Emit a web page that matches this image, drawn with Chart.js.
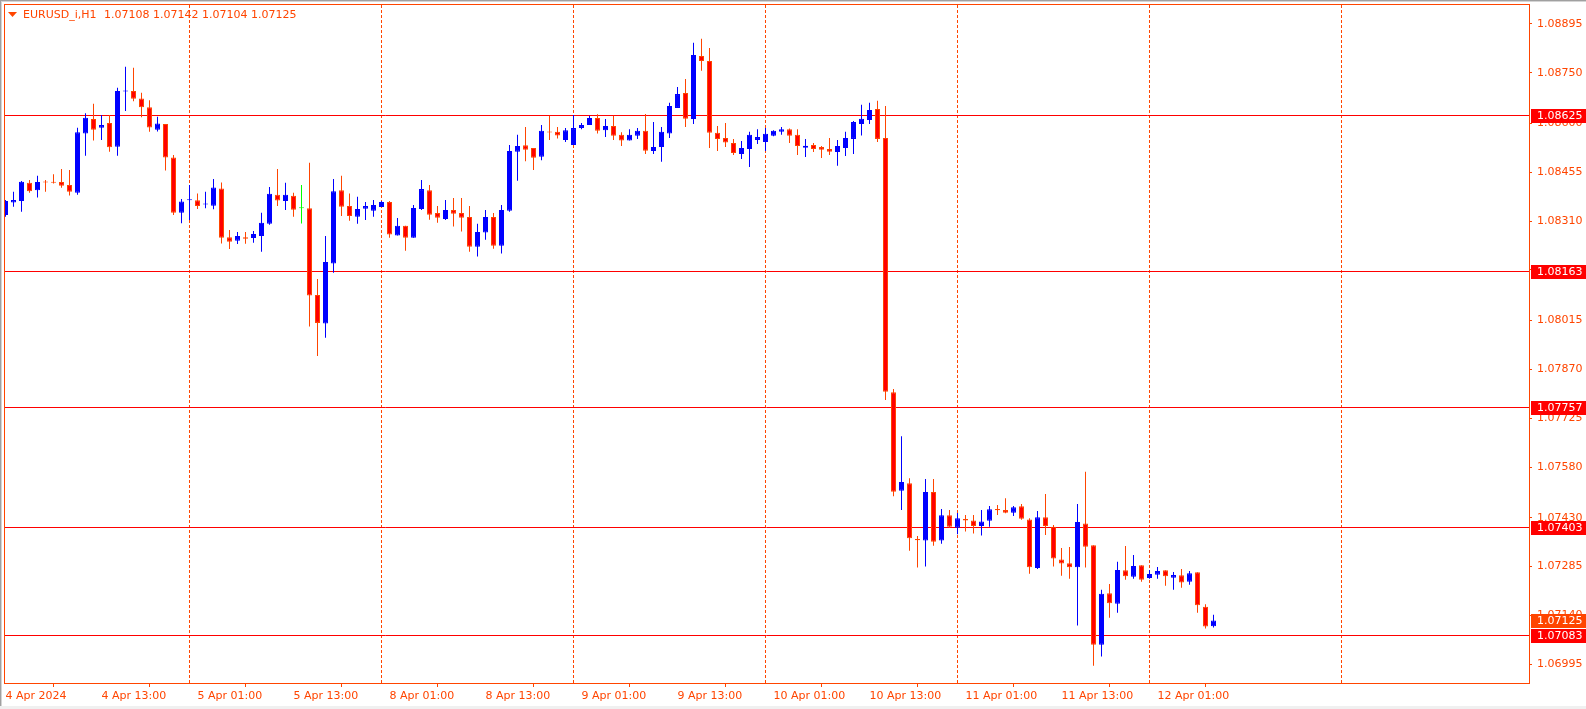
<!DOCTYPE html>
<html><head><meta charset="utf-8">
<script src="https://cdn.jsdelivr.net/npm/chart.js@4.4.1/dist/chart.umd.min.js"></script>
<style>html,body{margin:0;padding:0;background:#fff;overflow:hidden}canvas{display:block}</style>
</head><body>
<canvas id="c" width="1586" height="709" style="width:1586px;height:709px"></canvas>
<script>
// ---- data (EURUSD_i, H1, bar 0 = 4 Apr 2024 01:00) ----
const symbolTitle = 'EURUSD_i,H1';
const lastQuote = '1.07108 1.07142 1.07104 1.07125';
const opens = [1.08328,1.08365,1.08370,1.08424,1.08402,1.08426,1.08426,1.08426,1.08417,1.08394,
1.08570,1.08613,1.08587,1.08601,1.08531,1.08695,1.08696,1.08674,1.08648,1.08581,
1.08598,1.08499,1.08335,1.08372,1.08372,1.08359,1.08356,1.08407,1.08262,1.08252,
1.08262,1.08260,1.08266,1.08302,1.08388,1.08370,1.08385,1.08348,1.08348,1.08091,
1.08006,1.08184,1.08402,1.08355,1.08323,1.08347,1.08341,1.08352,1.08367,1.08267,
1.08296,1.08261,1.08346,1.08402,1.08334,1.08316,1.08343,1.08334,1.08322,1.08234,
1.08276,1.08322,1.08237,1.08341,1.08516,1.08535,1.08527,1.08501,1.08575,1.08575,
1.08551,1.08536,1.08586,1.08595,1.08616,1.08580,1.08592,1.08566,1.08549,1.08563,
1.08578,1.08518,1.08530,1.08570,1.08646,1.08690,1.08613,1.08800,1.08785,1.08572,
1.08557,1.08542,1.08509,1.08524,1.08551,1.08545,1.08563,1.08575,1.08583,1.08566,
1.08528,1.08536,1.08530,1.08524,1.08515,1.08527,1.08554,1.08598,1.08610,1.08643,
1.08557,1.07802,1.07510,1.07532,1.07367,1.07362,1.07506,1.07362,1.07437,1.07400,
1.07426,1.07422,1.07405,1.07421,1.07456,1.07453,1.07445,1.07464,1.07425,1.07281,
1.07431,1.07403,1.07306,1.07295,1.07283,1.07413,1.07348,1.07053,1.07206,1.07175,
1.07274,1.07255,1.07289,1.07251,1.07261,1.07274,1.07252,1.07259,1.07240,1.07268,
1.07166,1.07108];
const highs = [1.08373,1.08397,1.08429,1.08432,1.08445,1.08432,1.08449,1.08465,1.08462,1.08587,
1.08630,1.08658,1.08625,1.08625,1.08706,1.08768,1.08765,1.08691,1.08669,1.08620,
1.08598,1.08506,1.08376,1.08417,1.08392,1.08397,1.08435,1.08425,1.08284,1.08278,
1.08278,1.08281,1.08335,1.08411,1.08465,1.08424,1.08394,1.08417,1.08483,1.08138,
1.08266,1.08435,1.08445,1.08392,1.08382,1.08367,1.08373,1.08370,1.08370,1.08319,
1.08296,1.08358,1.08432,1.08417,1.08355,1.08373,1.08379,1.08379,1.08355,1.08302,
1.08343,1.08334,1.08358,1.08536,1.08566,1.08589,1.08527,1.08595,1.08623,1.08589,
1.08586,1.08625,1.08601,1.08623,1.08627,1.08613,1.08623,1.08574,1.08583,1.08586,
1.08628,1.08604,1.08589,1.08661,1.08708,1.08732,1.08839,1.08851,1.08824,1.08592,
1.08601,1.08554,1.08548,1.08575,1.08583,1.08586,1.08580,1.08589,1.08585,1.08583,
1.08554,1.08542,1.08533,1.08557,1.08551,1.08575,1.08607,1.08655,1.08661,1.08667,
1.08652,1.07812,1.07672,1.07547,1.07376,1.07545,1.07545,1.07456,1.07453,1.07444,
1.07438,1.07438,1.07453,1.07465,1.07468,1.07488,1.07465,1.07471,1.07428,1.07450,
1.07500,1.07408,1.07340,1.07343,1.07471,1.07566,1.07348,1.07216,1.07233,1.07299,
1.07346,1.07319,1.07289,1.07275,1.07284,1.07274,1.07269,1.07278,1.07272,1.07268,
1.07173,1.07142];
const lows = [1.08323,1.08353,1.08338,1.08394,1.08380,1.08397,1.08422,1.08409,1.08386,1.08388,
1.08504,1.08549,1.08551,1.08516,1.08504,1.08637,1.08666,1.08618,1.08575,1.08576,
1.08460,1.08328,1.08304,1.08313,1.08346,1.08348,1.08345,1.08244,1.08227,1.08242,
1.08243,1.08246,1.08219,1.08299,1.08355,1.08343,1.08323,1.08303,1.07997,1.07910,
1.07964,1.08157,1.08325,1.08311,1.08302,1.08313,1.08323,1.08352,1.08261,1.08267,
1.08222,1.08261,1.08343,1.08314,1.08305,1.08313,1.08294,1.08279,1.08219,1.08205,
1.08255,1.08228,1.08214,1.08338,1.08430,1.08488,1.08462,1.08491,1.08551,1.08555,
1.08545,1.08536,1.08583,1.08595,1.08570,1.08560,1.08551,1.08533,1.08549,1.08554,
1.08509,1.08509,1.08486,1.08557,1.08646,1.08589,1.08598,1.08756,1.08527,1.08518,
1.08530,1.08506,1.08494,1.08471,1.08539,1.08518,1.08562,1.08566,1.08542,1.08506,
1.08500,1.08515,1.08497,1.08506,1.08474,1.08503,1.08509,1.08564,1.08598,1.08545,
1.07779,1.07494,1.07453,1.07332,1.07282,1.07285,1.07347,1.07353,1.07400,1.07381,
1.07389,1.07383,1.07377,1.07403,1.07438,1.07443,1.07435,1.07424,1.07264,1.07278,
1.07379,1.07285,1.07258,1.07249,1.07110,1.07282,1.06991,1.07018,1.07133,1.07148,
1.07246,1.07249,1.07240,1.07249,1.07249,1.07228,1.07216,1.07222,1.07231,1.07148,
1.07101,1.07104];
const closes = [1.08370,1.08373,1.08427,1.08399,1.08426,1.08425,1.08424,1.08415,1.08397,1.08574,
1.08617,1.08581,1.08595,1.08529,1.08696,1.08697,1.08673,1.08648,1.08588,1.08600,
1.08499,1.08335,1.08368,1.08373,1.08355,1.08360,1.08410,1.08261,1.08249,1.08266,
1.08258,1.08272,1.08305,1.08391,1.08371,1.08388,1.08344,1.08348,1.08089,1.08008,
1.08189,1.08399,1.08353,1.08325,1.08346,1.08355,1.08358,1.08367,1.08270,1.08296,
1.08261,1.08349,1.08405,1.08329,1.08320,1.08343,1.08332,1.08320,1.08234,1.08278,
1.08322,1.08237,1.08343,1.08518,1.08533,1.08522,1.08498,1.08578,1.08573,1.08564,
1.08580,1.08586,1.08595,1.08616,1.08578,1.08592,1.08563,1.08549,1.08566,1.08578,
1.08519,1.08530,1.08575,1.08652,1.08687,1.08614,1.08803,1.08785,1.08572,1.08554,
1.08543,1.08512,1.08527,1.08566,1.08560,1.08569,1.08578,1.08583,1.08563,1.08533,
1.08534,1.08524,1.08522,1.08516,1.08533,1.08557,1.08604,1.08614,1.08640,1.08554,
1.07804,1.07507,1.07536,1.07369,1.07363,1.07506,1.07359,1.07437,1.07403,1.07428,
1.07422,1.07405,1.07419,1.07455,1.07452,1.07445,1.07461,1.07427,1.07283,1.07431,
1.07405,1.07309,1.07294,1.07283,1.07417,1.07344,1.07053,1.07204,1.07176,1.07275,
1.07256,1.07287,1.07246,1.07263,1.07272,1.07256,1.07260,1.07238,1.07265,1.07170,
1.07107,1.07125];

const xTickBars   = [0, 12, 24, 36, 48, 60, 72, 84, 96, 108, 120, 132, 144];
const xTickLabels = ['4 Apr 2024','4 Apr 13:00','5 Apr 01:00','5 Apr 13:00','8 Apr 01:00','8 Apr 13:00',
                     '9 Apr 01:00','9 Apr 13:00','10 Apr 01:00','10 Apr 13:00','11 Apr 01:00','11 Apr 13:00','12 Apr 01:00'];
const daySeparatorBars = [23, 47, 71, 95, 119, 143, 167];
const yTickLabels = ['1.08895','1.08750','1.08600','1.08455','1.08310','1.08165','1.08015',
                     '1.07870','1.07725','1.07580','1.07430','1.07285','1.07140','1.06995'];
const levelPrices = [1.08625, 1.08163, 1.07757, 1.07403, 1.07083];
const currentPrice = 1.07125;

// ---- style ----
const FG = '#FF4500', BULL = '#0000FF', BEAR_FILL = '#FF0000', BEAR_LINE = '#FF4500', DOJI = '#00FF00', LEVEL = '#FF0000';
const FONT = 'DejaVu Sans';
const Y_MIN = 1.069395, Y_MAX = 1.089543;
const X_MIN = -0.1875, X_MAX = 190.4375;

const dir = i => closes[i] > opens[i] ? 1 : (closes[i] < opens[i] ? -1 : 0);
const bodyFill = opens.map((o, i) => dir(i) > 0 ? BULL : dir(i) < 0 ? BEAR_FILL : DOJI);
const bodyLine = opens.map((o, i) => dir(i) > 0 ? BULL : dir(i) < 0 ? BEAR_LINE : DOJI);

const mtPlugin = {
  id: 'mt',
  beforeDraw(chart) {
    const {ctx, width, height} = chart;
    ctx.save();
    ctx.fillStyle = '#FFFFFF'; ctx.fillRect(0, 0, width, height);
    ctx.fillStyle = '#F0F0F0'; ctx.fillRect(0, 706, width, 3);
    ctx.fillStyle = '#A0A0A0'; ctx.fillRect(0, 0, width, 1); ctx.fillRect(0, 0, 1, 706);
    ctx.fillStyle = '#D4D4D4'; ctx.fillRect(1, 1, width - 1, 1); ctx.fillRect(1, 1, 1, 705);
    ctx.restore();
  },
  beforeDatasetsDraw(chart) {
    const {ctx, chartArea: a, scales: {x, y}} = chart;
    ctx.save();
    ctx.lineWidth = 1;
    ctx.strokeStyle = FG; ctx.setLineDash([3, 2]);
    daySeparatorBars.forEach(b => {
      const px = Math.floor(x.getPixelForValue(b)) + 0.5;
      ctx.beginPath(); ctx.moveTo(px, a.top + 1); ctx.lineTo(px, a.bottom); ctx.stroke();
    });
    ctx.setLineDash([]);
    ctx.strokeStyle = LEVEL;
    levelPrices.forEach(p => {
      const py = Math.round(y.getPixelForValue(p)) + 0.5;
      ctx.beginPath(); ctx.moveTo(a.left, py); ctx.lineTo(a.right, py); ctx.stroke();
    });
    ctx.restore();
  },
  afterDraw(chart) {
    const {ctx, chartArea: a, scales: {y}, width} = chart;
    ctx.save();
    // plot frame
    ctx.strokeStyle = FG; ctx.lineWidth = 1;
    ctx.strokeRect(a.left + 0.5, a.top + 0.5, a.right - a.left, a.bottom - a.top);
    // title
    ctx.fillStyle = FG;
    ctx.beginPath(); ctx.moveTo(8, 12); ctx.lineTo(17, 12); ctx.lineTo(12.5, 17); ctx.closePath(); ctx.fill();
    ctx.font = '11px ' + FONT; ctx.textBaseline = 'alphabetic'; ctx.textAlign = 'left';
    ctx.fillText(symbolTitle, 23, 18);
    ctx.fillText(lastQuote, 104, 18);
    // price boxes on the axis
    ctx.textBaseline = 'middle';
    const box = (p, col) => {
      const py = Math.round(y.getPixelForValue(p));
      ctx.fillStyle = col; ctx.fillRect(a.right + 2, py - 6, width - a.right - 2, 14);
      ctx.fillStyle = '#FFFFFF'; ctx.fillText(p.toFixed(5), a.right + 8, py + 1);
    };
    levelPrices.forEach(p => box(p, LEVEL));
    box(currentPrice, FG);
    ctx.restore();
  }
};

new Chart(document.getElementById('c'), {
  type: 'bar',
  data: {
    datasets: [
      { label: 'body', data: opens.map((o, i) => ({x: i, y: [o, closes[i]]})),
        backgroundColor: bodyFill, borderColor: bodyLine, borderWidth: 1, borderSkipped: false,
        barThickness: 5, minBarLength: 1, grouped: false, inflateAmount: 0 },
      { label: 'wick', data: lows.map((l, i) => ({x: i, y: [l, highs[i]]})),
        backgroundColor: bodyLine, borderWidth: 0, barThickness: 1, grouped: false, inflateAmount: 0 }
    ]
  },
  options: {
    responsive: false, animation: false, devicePixelRatio: 1,
    layout: { padding: { left: 4, top: 4, right: 0, bottom: 0 } },
    plugins: { legend: { display: false }, tooltip: { enabled: false }, title: { display: false } },
    scales: {
      x: {
        type: 'linear', position: 'bottom', min: X_MIN, max: X_MAX, offset: false,
        afterBuildTicks: s => { s.ticks = xTickBars.map(v => ({ value: v })); },
        afterFit: s => { s.height = 26; s.paddingLeft = 0; s.paddingRight = 0; s.paddingTop = 0; s.paddingBottom = 0; },
        ticks: { autoSkip: false, maxRotation: 0, minRotation: 0, align: 'start', padding: 3, color: FG,
                 font: { family: FONT, size: 11 }, callback: (v, idx) => xTickLabels[idx] },
        grid: { drawOnChartArea: false, drawTicks: true, tickLength: 4, color: FG },
        border: { display: true, color: FG }
      },
      y: {
        type: 'linear', position: 'right', min: Y_MIN, max: Y_MAX,
        afterBuildTicks: s => { s.ticks = yTickLabels.map(t => ({ value: parseFloat(t) })); },
        afterFit: s => { s.width = 57; s.paddingLeft = 0; s.paddingRight = 0; s.paddingTop = 0; s.paddingBottom = 0; },
        ticks: { autoSkip: false, padding: 5, color: FG, crossAlign: 'near',
                 font: { family: FONT, size: 11 }, callback: (v, idx) => yTickLabels[idx] },
        grid: { drawOnChartArea: false, drawTicks: true, tickLength: 3, color: FG },
        border: { display: true, color: FG }
      }
    }
  },
  plugins: [mtPlugin]
});
</script>
</body></html>
